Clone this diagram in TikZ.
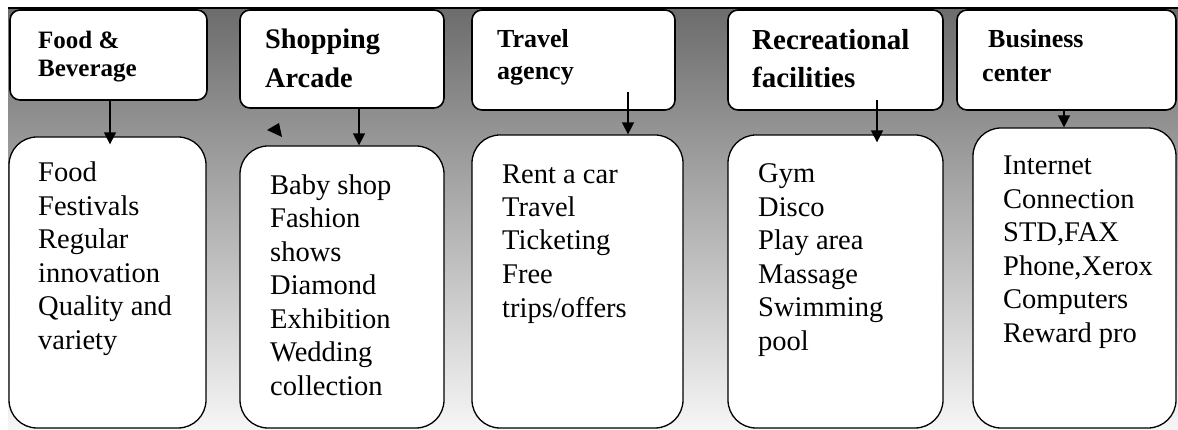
\documentclass[tikz,border=0pt]{standalone}
\usepackage{fontspec}
\setmainfont{Liberation Serif}
\usetikzlibrary{arrows.meta}

\begin{document}
\begin{tikzpicture}[
  x=1pt, y=-1pt,
  headbox/.style={draw=black, line width=1.6pt, rounded corners=10pt,
                  fill=white, inner sep=0pt},
  listbox/.style={draw=black, line width=1.3pt, rounded corners=28pt,
                  fill=white, inner sep=0pt},
  headtxt/.style={anchor=base west, align=left, inner sep=0pt},
  bodytxt/.style={anchor=base west, align=left, inner sep=0pt,
                  font=\fontsize{28.5}{33.5}\selectfont},
  flow/.style={-{Triangle[length=12pt,width=12pt]}, line width=1.6pt},
]
\useasboundingbox (0,0) rectangle (1178,430);

%% ── Backdrop ─────────────────────────────────────────────────────────────────
\shade[top color={rgb,255:red,108;green,108;blue,108},
       bottom color={rgb,255:red,246;green,246;blue,246}]
  (8,8) rectangle (1178,430);
\draw[line width=1.5pt] (8,8) -- (1178,8);

%% ── Service heads ────────────────────────────────────────────────────────────
\node[headbox, minimum width=197, minimum height=90]  (food)   at (108.5,55) {};
\node[headbox, minimum width=204, minimum height=98]  (shop)   at (342,59)   {};
\node[headbox, minimum width=203, minimum height=100] (travel) at (573.5,60) {};
\node[headbox, minimum width=215, minimum height=100] (recr)   at (835.5,60) {};
\node[headbox, minimum width=219, minimum height=100] (biz)    at (1066.5,60) {};

% base anchor = last line's baseline
\node[headtxt, font=\bfseries\fontsize{25}{28}\selectfont]   (foodt)   at (38,77)  {Food \&\\Beverage};
\node[headtxt, font=\bfseries\fontsize{28.3}{39}\selectfont] (shopt)   at (265,88) {Shopping\\Arcade};
\node[headtxt, font=\bfseries\fontsize{26}{32}\selectfont]   (travelt) at (497,80) {Travel\\agency};
\node[headtxt, font=\bfseries\fontsize{29}{38}\selectfont]   (recrt)   at (752,88) {Recreational\\facilities};
\node[headtxt, font=\bfseries\fontsize{26}{34}\selectfont]   (bizt)    at (982,82) {\hspace*{6pt}Business\\center};

%% ── Service lists ────────────────────────────────────────────────────────────
\node[listbox, minimum width=197, minimum height=291] (foodlist)   at (107.5,282.5) {};
\node[listbox, minimum width=204, minimum height=282] (shoplist)   at (342,287)     {};
\node[listbox, minimum width=211, minimum height=293] (travellist) at (577.5,281.5) {};
\node[listbox, minimum width=215, minimum height=293] (recrlist)   at (835.5,281.5) {};
\node[listbox, minimum width=203, minimum height=300] (bizlist)    at (1074.5,278)  {};

\node[bodytxt] (foodl)   at (38,349)   {Food\\Festivals\\Regular\\innovation\\Quality and\\variety};
\node[bodytxt] (shopl)   at (270,395)  {Baby shop\\Fashion\\shows\\Diamond\\Exhibition\\Wedding\\collection};
\node[bodytxt] (travell) at (502,317)  {Rent a car\\Travel\\Ticketing\\Free\\trips/offers};
\node[bodytxt] (recrl)   at (758,350)  {Gym\\Disco\\Play area\\Massage\\Swimming\\pool};
\node[bodytxt] (bizl)    at (1003,342) {Internet\\Connection\\STD,FAX\\Phone,Xerox\\Computers\\Reward pro};

%% ── Arrows ───────────────────────────────────────────────────────────────────
\draw[flow] ([xshift=1.5pt]food.south) -- ([xshift=2.5pt,yshift=-8pt]foodlist.north);
\draw[flow] ([xshift=17pt]shop.south) -- ([xshift=17pt]shoplist.north);
\draw[flow] ([xshift=54.5pt,yshift=19pt]travel.south) -- ([xshift=50.5pt]travellist.north);
\draw[flow] ([xshift=41.5pt,yshift=11pt]recr.south) -- ([xshift=41.5pt,yshift=-8pt]recrlist.north);
\draw[flow] ([xshift=-2.5pt]biz.south) -- ([xshift=-10.5pt]bizlist.north);

%% stray arrow tip
\fill (267,130) -- (279,123) -- (282,137) -- cycle;

\end{tikzpicture}
\end{document}
